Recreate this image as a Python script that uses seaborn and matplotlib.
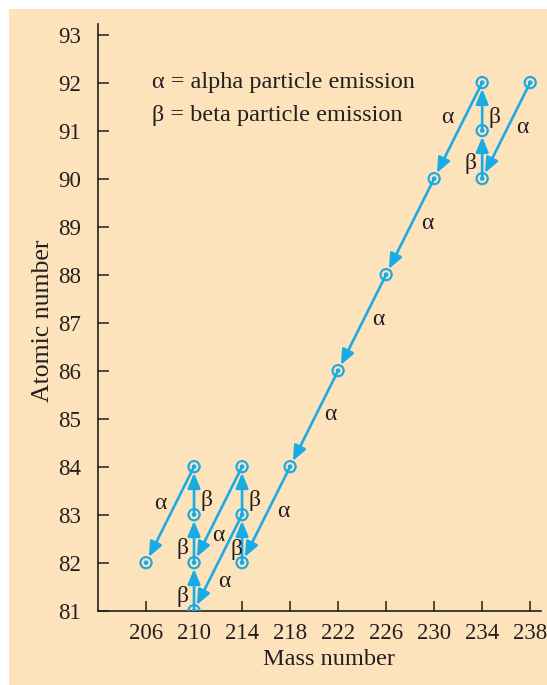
import matplotlib
matplotlib.use("Agg")
import matplotlib.pyplot as plt
from matplotlib.patches import Rectangle
import seaborn as sns
import pandas as pd

# Nuclides of the uranium-238 decay series (mass number, atomic number)
mass_number = [238, 234, 234, 234, 230, 226, 222, 218, 214, 214, 214, 210, 210, 210, 210, 206]
atomic_number = [92, 90, 91, 92, 90, 88, 86, 84, 82, 83, 84, 81, 82, 83, 84, 82]

# Decay steps: parent -> daughter and emission type
from_mass = [238, 234, 234, 234, 230, 226, 222, 218, 214, 214, 214, 214, 210, 210, 210, 210]
from_z    = [92,  90,  91,  92,  90,  88,  86,  84,  82,  83,  84,  83,  81,  82,  83,  84]
to_mass   = [234, 234, 234, 230, 226, 222, 218, 214, 214, 214, 210, 210, 210, 210, 210, 206]
to_z      = [90,  91,  92,  90,  88,  86,  84,  82,  83,  84,  82,  81,  82,  83,  84,  82]
decay_kind = ["α", "β", "β", "α", "α", "α", "α", "α", "β", "β", "α", "α", "β", "β", "β", "α"]

# Where each decay symbol sits (data coordinates)
label_x = [237.33, 233.0, 235.0, 231.08, 229.42, 225.33, 221.33, 217.42,
           213.5, 215.0, 212.0, 212.5, 209.08, 209.08, 211.0, 207.17]
label_y = [91.07, 90.32, 91.27, 91.27, 89.07, 87.07, 85.09, 83.07,
           82.27, 83.29, 82.57, 81.6, 81.3, 82.29, 83.29, 83.24]

x_ticks = [206, 210, 214, 218, 222, 226, 230, 234, 238]
y_ticks = list(range(81, 94))

legend_lines = ["α = alpha particle emission", "β = beta particle emission"]

BLUE = "#1AABE4"
PEACH = "#FDE3BC"
INK = "#231F20"

sns.set_theme(style="ticks")
plt.rcParams["font.family"] = ["Liberation Serif", "DejaVu Serif"]

fig = plt.figure(figsize=(5.47, 6.85), dpi=100, facecolor="white")
fig.patches.append(Rectangle((9 / 547, 0), 1, 1 - 9 / 685, transform=fig.transFigure,
                             facecolor=PEACH, edgecolor="none", zorder=-10))
ax = fig.add_axes([98 / 547, 1 - 610.7 / 685, (541 - 98) / 547, (610.7 - 24) / 685])
ax.set_facecolor("none")

# Decay arrows
for fx, fz, tx, tz in zip(from_mass, from_z, to_mass, to_z):
    ax.annotate("", xy=(tx, tz), xytext=(fx, fz),
                arrowprops=dict(arrowstyle="-|>,head_length=0.6,head_width=0.25",
                                mutation_scale=15, color=BLUE, lw=1.9,
                                shrinkA=0, shrinkB=4.5),
                zorder=2)

df = pd.DataFrame({"mass": mass_number, "z": atomic_number})
# Ring marker with a dot in the centre
sns.scatterplot(data=df, x="mass", y="z", ax=ax, marker="o", s=64,
                facecolor="none", edgecolor=BLUE, linewidth=1.6, zorder=3)
sns.scatterplot(data=df, x="mass", y="z", ax=ax, marker="o", s=11,
                color=BLUE, edgecolor="none", zorder=4)

for lx, ly, k in zip(label_x, label_y, decay_kind):
    ax.text(lx, ly, k, ha="center", va="center", fontsize=17, color=INK, zorder=5)

ax.text(206.47, 91.88, legend_lines[0], ha="left", va="baseline", fontsize=17.5, color=INK)
ax.text(206.47, 91.2, legend_lines[1], ha="left", va="baseline", fontsize=17.5, color=INK)

ax.set_xlim(202.0, 238.9)
ax.set_ylim(81.0, 93.22)
ax.set_xticks(x_ticks)
ax.set_yticks(y_ticks)
ax.set_xticklabels([str(v) for v in x_ticks])
ax.set_yticklabels([str(v) for v in y_ticks])

for side in ("top", "right"):
    ax.spines[side].set_visible(False)
for side in ("left", "bottom"):
    ax.spines[side].set_color(INK)
    ax.spines[side].set_linewidth(1.2)

ax.tick_params(axis="y", direction="in", length=8, width=1.1, color=INK,
               labelsize=16.5, labelcolor=INK, pad=12)
ax.tick_params(axis="x", direction="in", length=7, width=1.1, color=INK,
               labelsize=16.5, labelcolor=INK, pad=9)

ax.set_xlabel("Mass number", fontsize=17.5, color=INK)
ax.set_ylabel("Atomic number", fontsize=18.5, color=INK)
ax.xaxis.set_label_coords(0.521, -0.066)
ax.yaxis.set_label_coords(-0.1, 0.495)

fig.savefig("out.png", dpi=100, facecolor="white")
